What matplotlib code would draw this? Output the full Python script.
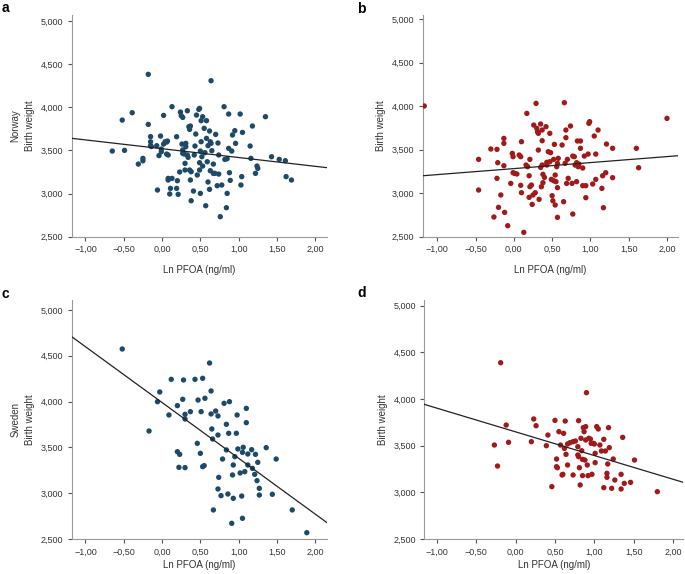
import matplotlib
matplotlib.use("Agg")
import numpy as np
import matplotlib.pyplot as plt
from matplotlib.ticker import FuncFormatter

# Panel a: Norway, first child
a_x = [-0.18, 0.64, -0.65, -0.52, -0.49, -0.39, -0.31, -0.25, -0.25, -0.18, -0.15, -0.15, -0.15,
       -0.14, -0.06, -0.07, -0.04, -0.02, -0.01, -0.01, 0.02, 0.02, 0.04, 0.06, 0.06, 0.08, 0.07,
       0.08, 0.08, 0.11, 0.10, 0.13, 0.13, 0.19, 0.19, 0.20, 0.21, 0.23, 0.24, 0.25, 0.27, 0.26,
       0.27, 0.27, 0.29, 0.30, 0.30, 0.31, 0.31, 0.33, 0.33, 0.34, 0.35, 0.36, 0.37, 0.36, 0.37,
       0.38, 0.38, 0.41, 0.42, 0.43, 0.44, 0.46, 0.45, 0.48, 0.49, 0.49, 0.49, 0.50, 0.51, 0.51,
       0.50, 0.52, 0.53, 0.53, 0.55, 0.56, 0.57, 0.58, 0.58, 0.59, 0.60, 0.60, 0.62, 0.62, 0.63,
       0.63, 0.64, 0.65, 0.67, 0.67, 0.69, 0.70, 0.72, 0.73, 0.74, 0.74, 0.76, 0.78, 0.81, 0.82,
       0.85, 0.85, 0.84, 0.87, 0.87, 0.88, 0.89, 0.91, 0.92, 0.95, 0.96, 1.02, 1.03, 1.04, 1.05,
       1.15, 1.16, 1.18, 1.22, 1.24, 1.25, 1.35, 1.43, 1.53, 1.61, 1.62, 1.69]
a_y = [4382, 4308, 3493, 3852, 3501, 3937, 3342, 3408, 3380, 3802, 3660, 3600, 3555,
       3545, 3041, 3555, 3440, 3667, 3516, 3485, 3906, 3574, 3600, 3597, 3458, 3447, 3609,
       3176, 3157, 3060, 2995, 3176, 4007, 3659, 3060, 3149, 2991, 3250, 3945, 3903, 3883, 3574,
       3505, 3466, 3458, 3350, 3273, 3582, 3543, 3960, 3447, 3420, 3775, 3744, 3783, 3273, 3157,
       3253, 2917, 3029, 3447, 3551, 3690, 3215, 3910, 3976, 3987, 3358, 3273, 3493, 3845, 3601,
       3002, 3427, 3319, 3891, 3756, 3474, 2859, 3845, 3640, 3369, 3134, 3555, 3725, 3049, 3265,
       3601, 3582, 3497, 3342, 3234, 3234, 3686, 3091, 3586, 3447, 3226, 2732, 3099, 4007, 3396,
       3404, 3002, 2836, 3922, 3524, 3242, 3153, 3493, 3679, 3729, 3582, 3922, 3099, 3196, 3709,
       3551, 3408, 3783, 3234, 3319, 3292, 3891, 3427, 3396, 3381, 3196, 3157]

# Panel b: Norway, second child
b_x = [-1.17, -0.46, -0.46, -0.30, -0.26, -0.22, -0.22, -0.21, -0.20, -0.17, -0.13, -0.13, -0.13,
       -0.12, -0.08, -0.04, -0.02, -0.01, -0.01, 0.01, 0.04, 0.07, 0.09, 0.09, 0.10, 0.10, 0.13,
       0.16, 0.17, 0.18, 0.20, 0.20, 0.21, 0.21, 0.23, 0.24, 0.25, 0.26, 0.28, 0.29, 0.30, 0.31,
       0.32, 0.32, 0.33, 0.35, 0.35, 0.36, 0.37, 0.37, 0.37, 0.38, 0.38, 0.40, 0.42, 0.43, 0.43,
       0.45, 0.47, 0.47, 0.48, 0.49, 0.50, 0.51, 0.52, 0.52, 0.53, 0.54, 0.54, 0.55, 0.56, 0.57,
       0.57, 0.57, 0.58, 0.63, 0.65, 0.66, 0.67, 0.68, 0.68, 0.69, 0.70, 0.71, 0.74, 0.76, 0.77,
       0.77, 0.79, 0.80, 0.82, 0.82, 0.83, 0.84, 0.85, 0.87, 0.87, 0.90, 0.90, 0.92, 0.94, 0.94,
       0.97, 0.98, 0.99, 1.03, 1.05, 1.07, 1.07, 1.10, 1.15, 1.16, 1.17, 1.20, 1.21, 1.29, 1.29,
       1.60, 1.63, 2.00]
b_y = [4001, 3388, 3036, 3507, 2726, 3503, 3170, 3350, 2837, 2979, 3572, 3629, 3315,
       2779, 2626, 3112, 3457, 3419, 3235, 3227, 3220, 3438, 3419, 3090, 3591, 3005, 2550,
       3323, 3916, 3304, 3200, 2952, 3388, 3074, 3093, 2871, 2979, 3782, 3005, 4031, 3744, 3706,
       3495, 3687, 2929, 3794, 3296, 3074, 3725, 3602, 3323, 3216, 3120, 3181, 3763, 3323, 3354,
       3476, 3361, 3687, 3465, 3158, 2971, 2913, 3143, 3388, 3560, 3208, 2864, 3132, 3304, 3342,
       3063, 2722, 3400, 3553, 2902, 4039, 3342, 3725, 3637, 3112, 3388, 3170, 3771, 3112, 2760,
       3426, 3419, 3323, 3350, 3132, 3599, 3304, 3334, 3515, 3599, 3289, 3086, 3426, 2948, 3086,
       3449, 3802, 3821, 3105, 3656, 3449, 3158, 3725, 3055, 3200, 2833, 3235, 3564, 3515, 3178,
       3515, 3292, 3859]

# Panel c: Sweden, first child
c_x = [-0.52, -0.17, -0.06, -0.03, 0.09, 0.12, 0.20, 0.20, 0.23, 0.22, 0.27, 0.28, 0.30, 0.30,
       0.30, 0.37, 0.43, 0.46, 0.47, 0.50, 0.51, 0.53, 0.53, 0.55, 0.56, 0.62, 0.64, 0.64, 0.65,
       0.66, 0.67, 0.70, 0.73, 0.73, 0.73, 0.74, 0.77, 0.79, 0.81, 0.84, 0.84, 0.86, 0.87, 0.88,
       0.91, 0.92, 0.93, 0.95, 0.93, 0.97, 0.98, 0.99, 1.02, 1.04, 1.05, 1.05, 1.06, 1.08, 1.10,
       1.10, 1.12, 1.12, 1.17, 1.18, 1.21, 1.22, 1.24, 1.25, 1.27, 1.27, 1.36, 1.44, 1.49, 1.70,
       1.89]
c_y = [4574, 3679, 3999, 4105, 3854, 4243, 3956, 3453, 3424, 3282, 4025, 4236, 3861, 3810,
       3279, 3890, 4243, 3544, 4017, 3435, 3890, 4254, 3290, 3301, 4036, 4421, 4116, 3865, 3701,
       3592, 2817, 3897, 3843, 3635, 3046, 3173, 2973, 3373, 3981, 3752, 3472, 2991, 3654, 3999,
       2671, 3199, 3308, 3399, 2944, 3654, 3854, 3483, 3221, 2969, 3446, 2726, 3501, 3235, 3926,
       3770, 3428, 3308, 3475, 3271, 3206, 3424, 3137, 3337, 3053, 2980, 3497, 2988, 3373, 2817,
       2569]

# Panel d: Sweden, second child
d_x = [-0.19, -0.27, -0.23, -0.12, -0.09, 0.20, 0.23, 0.26, 0.39, 0.41, 0.46, 0.50, 0.52, 0.52,
       0.53, 0.55, 0.57, 0.59, 0.60, 0.61, 0.62, 0.63, 0.64, 0.66, 0.66, 0.69, 0.73, 0.73, 0.76,
       0.79, 0.79, 0.80, 0.80, 0.81, 0.82, 0.83, 0.84, 0.85, 0.85, 0.86, 0.87, 0.88, 0.89, 0.89,
       0.90, 0.91, 0.92, 0.93, 0.95, 0.96, 0.97, 0.99, 1.00, 1.01, 1.01, 1.03, 1.05, 1.07, 1.09,
       1.12, 1.12, 1.14, 1.16, 1.16, 1.17, 1.18, 1.19, 1.22, 1.24, 1.26, 1.34, 1.34, 1.36, 1.38,
       1.46, 1.51, 1.80]
d_y = [4389, 3507, 3282, 3721, 3536, 3543, 3786, 3714, 3500, 3614, 3061, 3771, 3357, 3275,
       3264, 3650, 3507, 3186, 3193, 3632, 3471, 3764, 3407, 3293, 3518, 3532, 3186, 3543, 3550,
       3489, 3400, 3768, 3382, 3264, 3079, 3579, 3446, 3353, 3179, 3693, 3650, 3346, 3704, 3561,
       4068, 3293, 3179, 3579, 3571, 3525, 3193, 3525, 3518, 3418, 3318, 3704, 3679, 3507, 3443,
       3568, 3050, 3443, 3204, 3161, 3304, 3693, 3479, 3043, 3357, 3132, 3193, 3036, 3589, 3096,
       3107, 3346, 3007]

# regression lines: (intercept, slope)
fits = {"a": (3520, -102), "b": (3282, 69), "c": (3990, -609), "d": (3648, -254)}

x_ticks = [-1.0, -0.5, 0.0, 0.5, 1.0, 1.5, 2.0]
y_ticks = [2500, 3000, 3500, 4000, 4500, 5000]

BLUE = "#1c4a68"
RED = "#a11a1a"

W, H = 685, 574
fig = plt.figure(figsize=(W / 100, H / 100), dpi=100)
plt.rcParams["font.family"] = ["Liberation Sans", "DejaVu Sans"]


def px_box(left, top, right, bottom):
    # pixel box -> figure fraction rect
    return [left / W, 1 - bottom / H, (right - left) / W, (bottom - top) / H]


# letter, x, y, colour, axes box in px, country, xlim, ylim top, letter pos, xlabel pad
panels = [
    ("a", a_x, a_y, BLUE, px_box(71.7, 15, 326.7, 236.7), "Norway", (-1.18, 2.15), 5070, (2, 8), 8),
    ("b", b_x, b_y, RED, px_box(422.7, 15, 677.7, 236.7), None, (-1.19, 2.14), 5046, (357, 9), 8),
    ("c", c_x, c_y, BLUE, px_box(71.7, 300, 326.7, 539), "Sweden", (-1.18, 2.15), 5109, (2, 294), 3),
    ("d", d_x, d_y, RED, px_box(424.3, 300, 683.3, 539), None, (-1.16, 2.13), 5061, (357, 293), 3),
]

xfmt = FuncFormatter(lambda v, p: f"{v:.2f}".replace(".", ",").replace("-", "\u2212"))
yfmt = FuncFormatter(lambda v, p: f"{v:,.0f}")

for letter, xs, ys, color, pos, country, xlim, ytop, lpos, xpad in panels:
    ax = fig.add_axes(pos)
    ax.scatter(xs, ys, s=15, color=color, edgecolors="none", zorder=3)
    b0, b1 = fits[letter]
    lx = np.array(xlim)
    ax.plot(lx, b0 + b1 * lx, color="#222222", lw=0.9, zorder=4)

    ax.set_xlim(*xlim)
    ax.set_ylim(2500, ytop)
    ax.set_xticks(x_ticks)
    ax.set_yticks(y_ticks)
    ax.xaxis.set_major_formatter(xfmt)
    ax.yaxis.set_major_formatter(yfmt)
    for s in ["top", "right"]:
        ax.spines[s].set_visible(False)
    for s in ["left", "bottom"]:
        ax.spines[s].set_color("#999999")
        ax.spines[s].set_linewidth(0.8)
    ax.tick_params(direction="out", length=3, width=0.8, color="#555555",
                   labelsize=6.5, labelcolor="#333333", pad=3)

    ax.set_xlabel("Ln PFOA (ng/ml)", fontsize=7, color="#333333", labelpad=xpad)
    ax.set_ylabel("Birth weight", fontsize=7, color="#333333", labelpad=4)
    if country:
        ax.text(-0.22, 0.5, country, transform=ax.transAxes, rotation=90,
                ha="center", va="center", fontsize=7, color="#333333")

    fig.text(lpos[0] / W, 1 - lpos[1] / H, letter, fontsize=10, fontweight="bold",
             va="center", ha="left")

fig.savefig("out.png", dpi=100)
